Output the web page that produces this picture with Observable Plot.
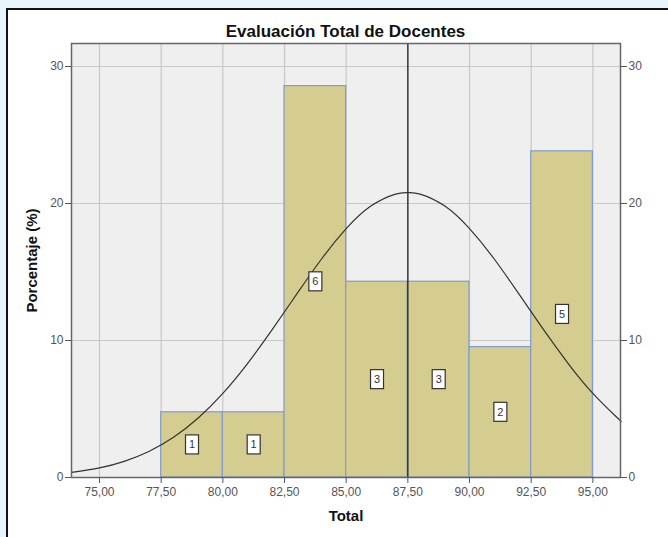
<!DOCTYPE html>
<html><head><meta charset="utf-8">
<script src="https://cdn.jsdelivr.net/npm/d3@7"></script>
<script src="https://cdn.jsdelivr.net/npm/@observablehq/plot@0.6"></script>
<style>
html,body{margin:0;padding:0;background:#e8f5fd;}
#wrap{position:relative;width:668px;height:537px;overflow:hidden;}
#panel{position:absolute;left:6px;top:8px;width:700px;height:600px;background:#fff;border-left:2px solid #111;border-top:2px solid #111;}
#title{position:absolute;left:71px;width:549px;top:23px;text-align:center;font:bold 17px "Liberation Sans",Arial,sans-serif;color:#111;line-height:18px;}
#chart{position:absolute;left:0;top:0;}
</style></head><body>
<div id="wrap"><div id="panel"></div><div id="title">Evaluación Total de Docentes</div><div id="chart"></div></div>
<script>
// Histogram bins (Total score) and their values
const binStart = [77.5, 80, 82.5, 85, 87.5, 90, 92.5];
const binEnd   = [80, 82.5, 85, 87.5, 90, 92.5, 95];
const counts   = [1, 1, 6, 3, 3, 2, 5];
const percents = [4.76, 4.76, 28.57, 14.29, 14.29, 9.52, 23.81];

// Axis ticks
const xTicks = [75, 77.5, 80, 82.5, 85, 87.5, 90, 92.5, 95];
const xTickLabels = ["75,00", "77,50", "80,00", "82,50", "85,00", "87,50", "90,00", "92,50", "95,00"];
const yTicks = [0, 10, 20, 30];

// Normal curve points
const curveX = [73.87, 75, 76, 77, 78, 79, 80, 81, 82, 83, 84, 85, 86, 87, 87.5, 88, 89, 90, 91, 92, 93, 94, 95, 96, 96.12];
const curveY = [0.37, 0.70, 1.18, 1.90, 2.93, 4.34, 6.14, 8.32, 10.79, 13.40, 15.95, 18.16, 19.81, 20.69, 20.80, 20.69, 19.81, 18.16, 15.95, 13.40, 10.79, 8.32, 6.14, 4.34, 4.15];

// Mean reference line
const meanValue = [87.5];

const bars = binStart.map((s, i) => ({x1: s, x2: binEnd[i], pct: percents[i], n: counts[i]}));
const curve = curveX.map((x, i) => ({x, y: curveY[i]}));

const font = "Liberation Sans, Arial, sans-serif";
const chart = Plot.plot({
  width: 668, height: 537,
  marginLeft: 71, marginRight: 48, marginTop: 43, marginBottom: 60,
  style: {background: "transparent", fontFamily: font, fontSize: "12px", color: "#555"},
  x: {domain: [73.865, 96.12]},
  y: {domain: [0, 31.68]},
  marks: [
    Plot.frame({fill: "#efefef", stroke: null}),
    Plot.gridX(xTicks, {stroke: "#c8c8c8", strokeOpacity: 1, strokeWidth: 1.2}),
    Plot.gridY(yTicks.filter(d => d > 0), {stroke: "#c8c8c8", strokeOpacity: 1, strokeWidth: 1.2}),
    Plot.rectY(bars, {x1: "x1", x2: "x2", y: "pct", fill: "#d4cd8f", stroke: "#7f9ccc", strokeWidth: 1.2}),
    Plot.ruleX(meanValue, {stroke: "#222", strokeWidth: 1.3}),
    Plot.line(curve, {x: "x", y: "y", curve: "natural", stroke: "#333", strokeWidth: 1.2}),
    Plot.text(bars, {x: d => (d.x1 + d.x2) / 2, y: d => d.pct / 2, text: "n", className: "cnt", fill: "#333", fontSize: 11}),
    Plot.frame({stroke: "#666", strokeWidth: 1.5}),
    Plot.axisX({ticks: xTicks, tickFormat: d => xTickLabels[xTicks.indexOf(d)], tickSize: 6, tickPadding: 4, label: null}),
    Plot.axisY({ticks: yTicks, anchor: "left", tickSize: 6, tickPadding: 2, label: null}),
    Plot.axisY({ticks: yTicks, anchor: "right", tickSize: 6, tickPadding: 2, label: null}),
    Plot.text(["Total"], {frameAnchor: "bottom", dy: 43, fontWeight: "bold", fontSize: 15, fill: "#111"}),
    Plot.text(["Porcentaje (%)"], {frameAnchor: "left", dx: -39, rotate: -90, textAnchor: "middle", fontWeight: "bold", fontSize: 15, fill: "#111"})
  ]
});
document.getElementById("chart").appendChild(chart);

// white boxes behind the count labels
d3.select(chart).selectAll("g.cnt text").each(function() {
  const bb = this.getBBox();
  const cx = bb.x + bb.width / 2, cy = bb.y + bb.height / 2;
  const r = document.createElementNS("http://www.w3.org/2000/svg", "rect");
  r.setAttribute("x", cx - 6.5); r.setAttribute("y", cy - 9.5);
  r.setAttribute("width", 13); r.setAttribute("height", 19);
  r.setAttribute("fill", "#fff"); r.setAttribute("stroke", "#333"); r.setAttribute("stroke-width", 1.2);
  const t = this.getAttribute("transform");
  if (t) r.setAttribute("transform", t);
  this.parentNode.insertBefore(r, this);
});
</script>
</body></html>
